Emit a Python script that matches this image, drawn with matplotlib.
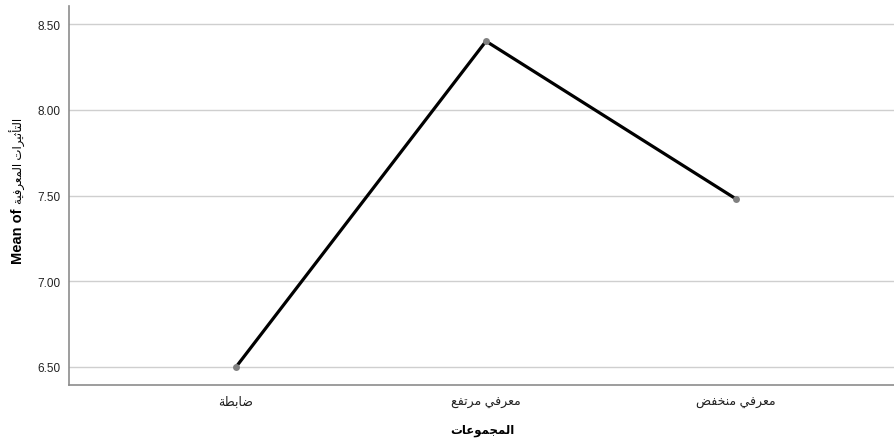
import unicodedata
import matplotlib
matplotlib.use("Agg")
import matplotlib.pyplot as plt

# ---- data ----
categories = ["ضابطة", "معرفي مرتفع", "معرفي منخفض"]
means = [6.50, 8.40, 7.48]
yticks = [6.50, 7.00, 7.50, 8.00, 8.50]
ytick_labels = ["6.50", "7.00", "7.50", "8.00", "8.50"]
xlabel_text = "المجموعات"
ylabel_prefix = "Mean of"
ylabel_arabic = "التأثيرات المعرفية"

# ---- minimal Arabic shaping (matplotlib has no bidi/shaping) ----
_forms = {}
for cp in range(0xFE70, 0xFEFF):
    d = unicodedata.decomposition(chr(cp))
    if not d.startswith("<"):
        continue
    tag, _, rest = d.partition(" ")
    parts = rest.split()
    if len(parts) != 1:
        continue
    base = chr(int(parts[0], 16))
    _forms.setdefault(base, {})[tag.strip("<>")] = chr(cp)


def _dual(ch):
    return ch in _forms and "initial" in _forms[ch]


def shape(text):
    out = []
    n = len(text)
    for i, ch in enumerate(text):
        if ch not in _forms:
            out.append(ch)
            continue
        prev = text[i - 1] if i > 0 else ""
        nxt = text[i + 1] if i < n - 1 else ""
        pj = _dual(prev)
        nj = _dual(ch) and (nxt in _forms)
        f = _forms[ch]
        if pj and nj and "medial" in f:
            out.append(f["medial"])
        elif pj and "final" in f:
            out.append(f["final"])
        elif nj and "initial" in f:
            out.append(f["initial"])
        else:
            out.append(f.get("isolated", ch))
    return "".join(out)[::-1]


fam = ["Liberation Sans", "DejaVu Sans"]
plt.rcParams["font.family"] = fam

W, H = 895, 439
fig = plt.figure(figsize=(W / 100, H / 100), dpi=100)
ax = fig.add_axes([69 / W, (H - 386) / H, (W - 69) / W, (386 - 7) / H])

x = list(range(len(categories)))
ax.plot(x, means, color="black", lw=2.3, zorder=3, solid_capstyle="round")
ax.plot(x, means, "o", color="#808080", ms=5, zorder=4, mec="none")

ax.set_xlim(-0.668, 2.636)
ax.set_ylim(6.395, 8.605)
ax.set_yticks(yticks)
ax.set_yticklabels(ytick_labels, fontsize=8.5, color="#222222")
ax.set_xticks(x)
ax.set_xticklabels([shape(c) for c in categories], fontsize=9, color="#222222",
                   family=fam)
ax.tick_params(axis="both", length=0)
ax.tick_params(axis="y", pad=6)
ax.tick_params(axis="x", pad=8)

ax.grid(axis="y", color="#cfcfcf", lw=1)
ax.set_axisbelow(True)
for s in ["top", "right"]:
    ax.spines[s].set_visible(False)
for s in ["left", "bottom"]:
    ax.spines[s].set_color("#8c8c8c")
    ax.spines[s].set_linewidth(1.2)

ax.set_xlabel(shape(xlabel_text), fontsize=8.5, fontweight="bold", labelpad=11,
              family=fam)

# y label: bold Latin part + regular Arabic part, reading bottom to top
xl = 18 / W
yj = (H - 204) / H
fig.text(xl, yj, ylabel_prefix + " ", rotation=90, rotation_mode="anchor",
         ha="right", va="center", fontsize=10.5, fontweight="bold", family=fam)
fig.text(xl, yj, shape(ylabel_arabic), rotation=90, rotation_mode="anchor",
         ha="left", va="center", fontsize=8.5, family=fam)

fig.savefig("out.png", dpi=100)
